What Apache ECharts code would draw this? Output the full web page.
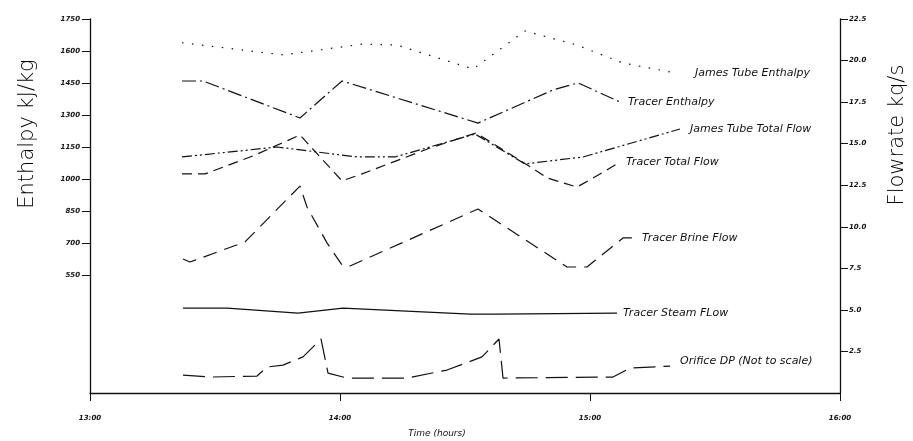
<!DOCTYPE html>
<html>
<head>
<meta charset="utf-8">
<script src="https://cdn.jsdelivr.net/npm/echarts@6/dist/echarts.min.js"></script>
<style>html,body{margin:0;padding:0;background:#fff}#c{width:913px;height:441px}</style>
</head>
<body>
<div id="c"></div>
<script>
// ---- data (time in decimal hours) ----
var xTicks = [13, 14, 15, 16];
var leftTicks = [550, 700, 850, 1000, 1150, 1300, 1450, 1600, 1750];
var rightTicks = [2.5, 5, 7.5, 10, 12.5, 15, 17.5, 20, 22.5];

var jtEnthalpyT = [13.368, 13.772, 14.092, 14.228, 14.532, 14.74, 14.948, 15.132, 15.34];
var jtEnthalpyV = [1639, 1582, 1633, 1628, 1516, 1694, 1628, 1544, 1498];

var trEnthalpyT = [13.368, 13.452, 13.84, 14.008, 14.552, 14.852, 14.952, 15.12];
var trEnthalpyV = [1460, 1460, 1287, 1460, 1263, 1418, 1451, 1362];

var jtFlowT = [13.368, 13.748, 14.068, 14.22, 14.54, 14.74, 14.972, 15.36];
var jtFlowV = [14.20, 14.80, 14.20, 14.20, 15.58, 13.78, 14.20, 15.88];

var trTotalT = [13.368, 13.46, 13.652, 13.84, 14.008, 14.088, 14.36, 14.544, 14.768, 14.828, 14.948, 15.048, 15.12];
var trTotalV = [13.18, 13.18, 14.26, 15.52, 12.76, 13.18, 14.74, 15.64, 13.54, 12.94, 12.39, 13.24, 13.90];

var brineT = [13.372, 13.4, 13.62, 13.84, 13.868, 13.948, 14.008, 14.04, 14.552, 14.908, 14.988, 15.132, 15.18];
var brineV = [8.06, 7.88, 9.09, 12.45, 11.19, 9.03, 7.70, 7.64, 11.07, 7.58, 7.58, 9.33, 9.33];

var steamT = [13.372, 13.548, 13.832, 14.012, 14.52, 14.628, 15.108];
var steamV = [5.11, 5.11, 4.81, 5.11, 4.75, 4.75, 4.81];

var orificeT = [13.372, 13.48, 13.668, 13.708, 13.772, 13.852, 13.924, 13.952, 14.028, 14.268, 14.428, 14.568, 14.636, 14.652, 15.092, 15.16, 15.32];
var orificeV = [1.08, 0.96, 1.02, 1.56, 1.68, 2.17, 3.25, 1.20, 0.90, 0.90, 1.38, 2.17, 3.25, 0.90, 0.96, 1.50, 1.62];

function pairs(t, v) { return t.map(function (x, i) { return [x, v[i]]; }); }

var INK = '#111';
var FONT = 'DejaVu Sans';

function lineSeries(name, t, v, yIdx, dash, dist, off) {
  return {
    name: name, type: 'line', yAxisIndex: yIdx, data: pairs(t, v),
    symbol: 'none', smooth: false, silent: true,
    lineStyle: { color: INK, width: 1.2, type: dash, cap: 'butt' },
    endLabel: {
      show: true, formatter: name, distance: dist, offset: off || [0, 0],
      color: INK, fontFamily: FONT, fontStyle: 'italic', fontSize: 11
    }
  };
}

var chart = echarts.init(document.getElementById('c'), null, { renderer: 'canvas' });
chart.setOption({
  animation: false,
  backgroundColor: '#fff',
  grid: { left: 90, right: 73, top: 19, bottom: 48 },
  xAxis: {
    type: 'value', min: 13, max: 16, interval: 1,
    axisLine: { lineStyle: { color: INK, width: 1.3 } },
    axisTick: { inside: false, length: 8, lineStyle: { color: INK } },
    axisLabel: {
      margin: 22, color: INK, fontFamily: FONT, fontStyle: 'italic', fontWeight: 'bold', fontSize: 7,
      formatter: function (v) { return v + ':00'; }, showMinLabel: true, showMaxLabel: true
    },
    splitLine: { show: false }
  },
  yAxis: [
    {
      type: 'value', min: 0, max: 1750, position: 'left',
      axisLine: { show: true, lineStyle: { color: INK, width: 1.3 } },
      axisTick: { show: true, inside: false, length: 8, customValues: leftTicks, lineStyle: { color: INK } },
      axisLabel: {
        margin: 10, color: INK, fontFamily: FONT, fontStyle: 'italic', fontWeight: 'bold', fontSize: 7,
        customValues: leftTicks,
        formatter: function (v) { return String(Math.round(v)); }
      },
      splitLine: { show: false }
    },
    {
      type: 'value', min: 0, max: 22.5, interval: 2.5, position: 'right',
      axisLine: { show: true, lineStyle: { color: INK, width: 1.3 } },
      axisTick: { show: true, inside: false, length: 8, customValues: rightTicks, lineStyle: { color: INK } },
      axisLabel: {
        margin: 9, color: INK, fontFamily: FONT, fontStyle: 'italic', fontWeight: 'bold', fontSize: 7,
        customValues: rightTicks,
        formatter: function (v) { return v.toFixed(1); }
      },
      splitLine: { show: false }
    }
  ],
  graphic: [
    { type: 'text', x: 28, y: 134, rotation: Math.PI / 2,
      style: { text: 'Enthalpy kJ/kg', fill: '#000', font: '200 21px "DejaVu Sans"', align: 'center', verticalAlign: 'middle' } },
    { type: 'text', x: 898, y: 135, rotation: Math.PI / 2,
      style: { text: 'Flowrate kq/s', fill: '#000', font: '200 21px "DejaVu Sans"', align: 'center', verticalAlign: 'middle' } },
    { type: 'text', x: 437, y: 434,
      style: { text: 'Time (hours)', fill: INK, font: 'italic 9px "DejaVu Sans"', align: 'center', verticalAlign: 'middle' } }
  ],
  series: [
    lineSeries('James Tube Enthalpy', jtEnthalpyT, jtEnthalpyV, 0, [1.5, 8.5], 20),
    lineSeries('Tracer Enthalpy', trEnthalpyT, trEnthalpyV, 0, [14, 4, 2, 4], 8),
    lineSeries('James Tube Total Flow', jtFlowT, jtFlowV, 1, [10, 3, 2, 3, 2, 3], 10),
    lineSeries('Tracer Total Flow', trTotalT, trTotalV, 1, [10, 6], 6),
    lineSeries('Tracer Brine Flow', brineT, brineV, 1, [14, 8], 7),
    lineSeries('Tracer Steam FLow', steamT, steamV, 1, 'solid', 6),
    lineSeries('Orifice DP (Not to scale)', orificeT, orificeV, 1, [22, 8], 10, [0, -5])
  ]
});
</script>
</body>
</html>
